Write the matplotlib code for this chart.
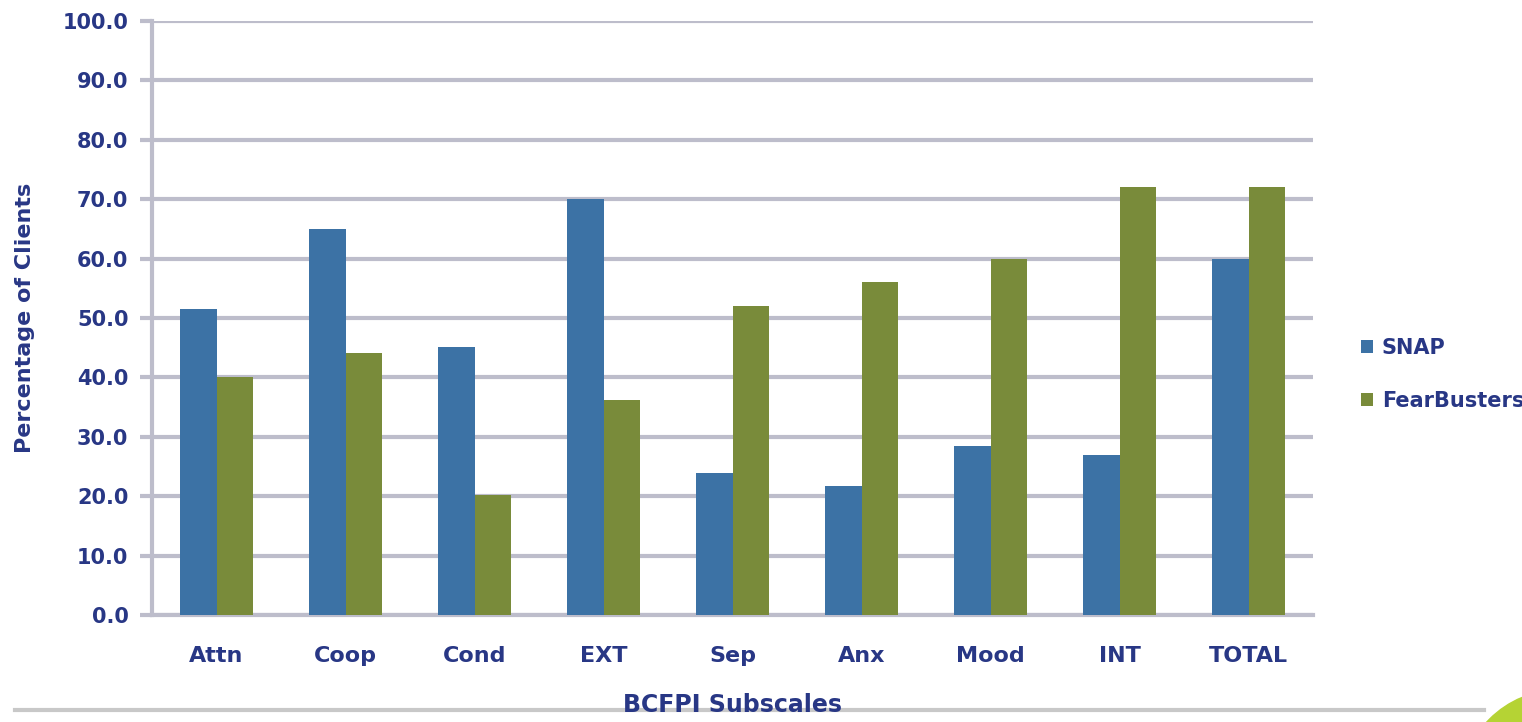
import numpy as np
import matplotlib
matplotlib.use("Agg")
import matplotlib.pyplot as plt
from matplotlib.lines import Line2D
from matplotlib.patches import Ellipse

# Data
categories = ["Attn", "Coop", "Cond", "EXT", "Sep", "Anx", "Mood", "INT", "TOTAL"]
snap = [51.5, 65.0, 45.1, 70.0, 23.9, 21.7, 28.4, 26.9, 60.0]
fearbusters = [40.1, 44.1, 20.2, 36.2, 52.1, 56.1, 60.0, 72.1, 72.1]
y_ticks = np.arange(0, 101, 10)

BLUE = "#3C72A5"
GREEN = "#798B3A"
NAVY = "#283785"
GRID = "#BDBDCB"

plt.rcParams["font.family"] = "DejaVu Sans"
plt.rcParams["font.weight"] = "bold"

fig = plt.figure(figsize=(15.22, 7.22), dpi=100)
ax = fig.add_axes([0.0999, 0.1482, 0.7628, 0.8227])

x = np.arange(len(categories))
w = 0.285
ax.bar(x - w / 2, snap, width=w, color=BLUE, label="SNAP", zorder=3)
ax.bar(x + w / 2, fearbusters, width=w, color=GREEN, label="FearBusters", zorder=3)

ax.set_xlim(-0.5, len(categories) - 0.5)
ax.set_ylim(0, 100)
ax.set_yticks(y_ticks)
ax.set_yticklabels([f"{v:.1f}" for v in y_ticks])
ax.set_xticks(x)
ax.set_xticklabels(categories)

ax.yaxis.grid(True, color=GRID, linewidth=3, zorder=0)
for s in ["top", "right"]:
    ax.spines[s].set_visible(False)
for s in ["left", "bottom"]:
    ax.spines[s].set_color(GRID)
    ax.spines[s].set_linewidth(3)
ax.tick_params(axis="y", colors=GRID, labelcolor=NAVY, labelsize=15,
               length=9, width=3, pad=8)
ax.tick_params(axis="x", length=0, labelcolor=NAVY, labelsize=16, pad=22)
for lab in ax.get_xticklabels() + ax.get_yticklabels():
    lab.set_fontweight("bold")

ax.set_ylabel("Percentage of Clients", color=NAVY, fontsize=16,
              fontweight="bold", labelpad=20)
ax.set_xlabel("BCFPI Subscales", color=NAVY, fontsize=17,
              fontweight="bold", labelpad=20)

leg = ax.legend(loc="center left", bbox_to_anchor=(1.025, 0.405), frameon=False,
                handlelength=0.6, handleheight=0.6, handletextpad=0.4,
                labelspacing=1.6, fontsize=15)
for t in leg.get_texts():
    t.set_color(NAVY)
    t.set_fontweight("bold")

# slide decoration: grey rule along the bottom and green badge corner
fig.add_artist(Line2D([0.01, 0.975], [0.016, 0.016], color="#C8C8C8",
                      linewidth=3, transform=fig.transFigure, zorder=0))
fig.add_artist(Ellipse((1.025, -0.094), 0.131, 0.277, transform=fig.transFigure,
                       color="#B5D334", zorder=1))

fig.savefig("out.png", dpi=100)
